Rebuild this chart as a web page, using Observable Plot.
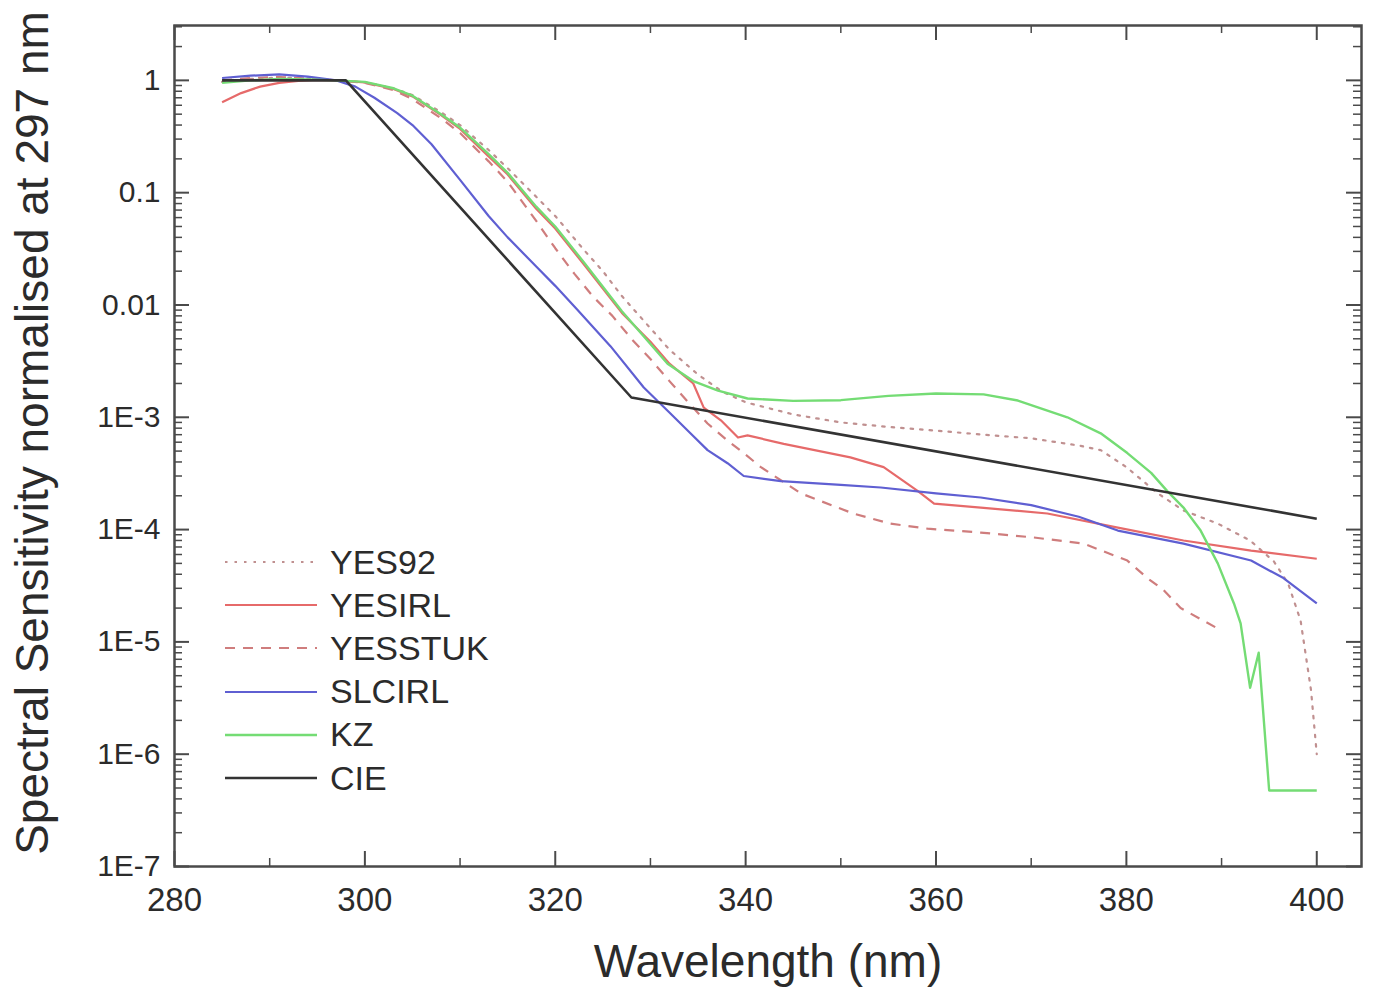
<!DOCTYPE html>
<html>
<head>
<meta charset="utf-8">
<script src="https://cdn.jsdelivr.net/npm/d3@7"></script>
<script src="https://cdn.jsdelivr.net/npm/@observablehq/plot@0.6"></script>
<style>
  html, body { margin: 0; padding: 0; background: #fff; }
  #wrap { position: relative; width: 1373px; height: 1001px; font-family: "Liberation Sans", Arial, sans-serif; }
  .lg-row { position: absolute; height: 40px; display: flex; align-items: center; }
  .lg-row span { font-size: 34px; color: #2b2b2b; margin-left: 12px; }
</style>
</head>
<body>
<div id="wrap"></div>
<script>
// ---- data (wavelength nm, normalised spectral sensitivity) ----
const YES92 = [[285,0.97],[288,1.03],[291,1.06],[294,1.04],[297,1.0],[300,0.96],[303,0.85],[305,0.74],[308,0.52],[310,0.40],[313,0.24],[315,0.165],[318,0.092],[320,0.062],[323,0.031],[325,0.02],[327,0.012],[330,0.0062],[332,0.0040],[335,0.0024],[337.5,0.0017],[340,0.00136],[345,0.00106],[350,0.0009],[355,0.00082],[360,0.00076],[365,0.0007],[370,0.00065],[375,0.00056],[377.3,0.00051],[380,0.00036],[383.3,0.00021],[386,0.000148],[389.6,0.000113],[393,0.00008],[395.5,0.000052],[397,0.000033],[398.3,0.0000155],[399.4,0.0000037],[400,0.000001]];
const YESIRL = [[285,0.64],[287,0.77],[289,0.88],[291,0.95],[293,0.99],[295,1.01],[297,1.0],[300,0.96],[303,0.84],[305,0.72],[308,0.49],[310,0.37],[313,0.21],[315,0.145],[318,0.072],[320,0.048],[323,0.023],[325,0.014],[327,0.0085],[330,0.0047],[332,0.0030],[334.5,0.0020],[335.6,0.00122],[337.4,0.00094],[339.2,0.00066],[340.2,0.00069],[344,0.00058],[351,0.00044],[354.5,0.00036],[358.1,0.00022],[359.8,0.00017],[364.7,0.000157],[371.7,0.000139],[379.1,0.000104],[386,0.00008],[393.1,0.000065],[400,0.000055]];
const YESSTUK = [[285,1.0],[288,1.05],[291,1.07],[294,1.04],[297,1.0],[300,0.95],[303,0.82],[305,0.68],[308,0.46],[310,0.34],[313,0.19],[315,0.125],[318,0.056],[320,0.032],[322,0.019],[324,0.0118],[326,0.008],[328,0.005],[330,0.0033],[332,0.0021],[334,0.00135],[336,0.00088],[338.1,0.00062],[339.8,0.00048],[341.6,0.00036],[345.8,0.00021],[351.3,0.000139],[355.2,0.000113],[359.1,0.000102],[364.7,0.000094],[370.3,0.000085],[375.5,0.000075],[380.1,0.000053],[382.2,0.000037],[383.9,0.000029],[385.7,0.00002],[390,0.0000126]];
const SLCIRL = [[285,1.05],[288,1.1],[291,1.13],[294,1.08],[297,1.0],[299,0.88],[301,0.7],[303.4,0.51],[305,0.4],[307,0.27],[310,0.13],[313,0.062],[315,0.04],[318,0.022],[320,0.0148],[322.3,0.0091],[325.8,0.0043],[329.3,0.00184],[332.1,0.00108],[334.2,0.00072],[336,0.00051],[338.1,0.00039],[339.8,0.0003],[343.7,0.00027],[350,0.00025],[354.2,0.000237],[360,0.00021],[364.7,0.000193],[370,0.000165],[375,0.00013],[379.1,0.000098],[386,0.000075],[393.1,0.000053],[396.5,0.000037],[400,0.000022]];
const KZ = [[285,0.95],[288,1.0],[291,1.03],[294,1.02],[297,1.0],[300,0.97],[303,0.85],[305,0.73],[308,0.5],[310,0.38],[313,0.22],[315,0.15],[318,0.075],[320,0.05],[323,0.024],[325,0.0145],[327,0.0088],[329.7,0.0048],[331.8,0.003],[334.5,0.0021],[337.1,0.00173],[340.2,0.00147],[345,0.0014],[350,0.00142],[355,0.00155],[360,0.00163],[365,0.0016],[368.6,0.00141],[373.8,0.001],[377.3,0.00072],[380.1,0.00048],[382.6,0.00032],[384.3,0.00022],[386,0.000157],[387.8,0.000098],[389.6,0.00005],[391.3,0.000022],[392,0.0000146],[393,0.0000039],[393.9,0.000008],[395,0.000000475],[400,0.000000475]];
const CIE = [[285,1.0],[298,1.0],[328,0.0015],[400,0.000125]];

const seriesNames = ["YES92","YESIRL","YESSTUK","SLCIRL","KZ","CIE"];
const seriesData = [YES92, YESIRL, YESSTUK, SLCIRL, KZ, CIE];

const xTicks = [280,300,320,340,360,380,400];
const xMinorTicks = [290,310,330,350,370,390];
const yTicks = [1,0.1,0.01,1e-3,1e-4,1e-5,1e-6,1e-7];
const yTickLabels = ["1","0.1","0.01","1E-3","1E-4","1E-5","1E-6","1E-7"];
const yMinorMultipliers = [2,3,4,5,6,7,8,9];

// ---- styles ----
const styles = {
  YES92:   {stroke: "#c09090", strokeWidth: 2.2, dash: "2.5 7"},
  YESIRL:  {stroke: "#e66a6a", strokeWidth: 2.2, dash: null},
  YESSTUK: {stroke: "#cf7d7d", strokeWidth: 2.2, dash: "10 8"},
  SLCIRL:  {stroke: "#5f5fd2", strokeWidth: 2.2, dash: null},
  KZ:      {stroke: "#74dc74", strokeWidth: 2.4, dash: null},
  CIE:     {stroke: "#333333", strokeWidth: 2.6, dash: null}
};

const W = 1373, H = 1001, mL = 174, mR = 12, mT = 25, mB = 135;
const innerW = W - mL - mR, innerH = H - mT - mB;
const yDomain = [1e-7, 3.08];

const yMinor = [];
for (const d of yTicks.concat([10])) for (const m of yMinorMultipliers) {
  const v = d * m / 10;
  if (v > yDomain[0] && v < yDomain[1]) yMinor.push(v);
}

const lineMarks = seriesNames.map((name, i) => {
  const s = styles[name];
  const rows = seriesData[i].map(([x, y]) => ({x, y}));
  return Plot.line(rows, {x: "x", y: "y", stroke: s.stroke, strokeWidth: s.strokeWidth, strokeDasharray: s.dash, strokeLinejoin: "round", strokeLinecap: s.dash === "2.5 7" ? "round" : "butt"});
});

const tickColor = "#4a4a4a";
const chart = Plot.plot({
  width: W, height: H,
  marginLeft: mL, marginRight: mR, marginTop: mT, marginBottom: mB,
  x: {domain: [280, 404.7]},
  y: {type: "log", domain: yDomain},
  style: {fontFamily: "'Liberation Sans', Arial, sans-serif", color: "#2b2b2b", background: "#fff", overflow: "visible"},
  marks: [
    ...lineMarks,
    // inward ticks on all four sides
    Plot.tickY(yTicks, {y: d => d, insetRight: innerW - 15, stroke: tickColor, strokeWidth: 2}),
    Plot.tickY(yMinor, {y: d => d, insetRight: innerW - 8, stroke: tickColor, strokeWidth: 1.5}),
    Plot.tickY(yTicks, {y: d => d, insetLeft: innerW - 15, stroke: tickColor, strokeWidth: 2}),
    Plot.tickY(yMinor, {y: d => d, insetLeft: innerW - 8, stroke: tickColor, strokeWidth: 1.5}),
    Plot.tickX(xTicks, {x: d => d, insetTop: innerH - 15, stroke: tickColor, strokeWidth: 2}),
    Plot.tickX(xMinorTicks, {x: d => d, insetTop: innerH - 8, stroke: tickColor, strokeWidth: 1.5}),
    Plot.tickX(xTicks, {x: d => d, insetBottom: innerH - 15, stroke: tickColor, strokeWidth: 2}),
    Plot.tickX(xMinorTicks, {x: d => d, insetBottom: innerH - 8, stroke: tickColor, strokeWidth: 1.5}),
    Plot.frame({stroke: tickColor, strokeWidth: 2.5}),
    Plot.axisY({ticks: yTicks, tickSize: 0, tickPadding: 14, fontSize: 30, label: null,
      tickFormat: d => yTickLabels[yTicks.indexOf(d)]}),
    Plot.axisX({ticks: xTicks, tickSize: 0, tickPadding: 21, fontSize: 33, label: null,
      tickFormat: d => String(d)}),
    Plot.text(["Wavelength (nm)"], {text: d => d, frameAnchor: "bottom", dy: 110, fontSize: 46}),
    Plot.text(["Spectral Sensitivity normalised at 297 nm"], {text: d => d, frameAnchor: "left", textAnchor: "middle", dx: -141, dy: -13, rotate: -90, fontSize: 46})
  ]
});

const wrap = document.getElementById("wrap");
wrap.appendChild(chart);

// ---- legend (inside the plot area, lower left) ----
seriesNames.forEach((name, i) => {
  const s = styles[name];
  const row = document.createElement("div");
  row.className = "lg-row";
  row.style.left = "225px";
  row.style.top = (542 + i * 43.2) + "px";
  const svgNS = "http://www.w3.org/2000/svg";
  const svg = document.createElementNS(svgNS, "svg");
  svg.setAttribute("width", "93"); svg.setAttribute("height", "20");
  const ln = document.createElementNS(svgNS, "line");
  ln.setAttribute("x1", "0"); ln.setAttribute("x2", "92");
  ln.setAttribute("y1", "10"); ln.setAttribute("y2", "10");
  ln.setAttribute("stroke", s.stroke);
  ln.setAttribute("stroke-width", s.strokeWidth);
  if (s.dash) ln.setAttribute("stroke-dasharray", s.dash);
  svg.appendChild(ln);
  const tx = document.createElement("span");
  tx.textContent = name;
  row.appendChild(svg); row.appendChild(tx);
  wrap.appendChild(row);
});
</script>
</body>
</html>
